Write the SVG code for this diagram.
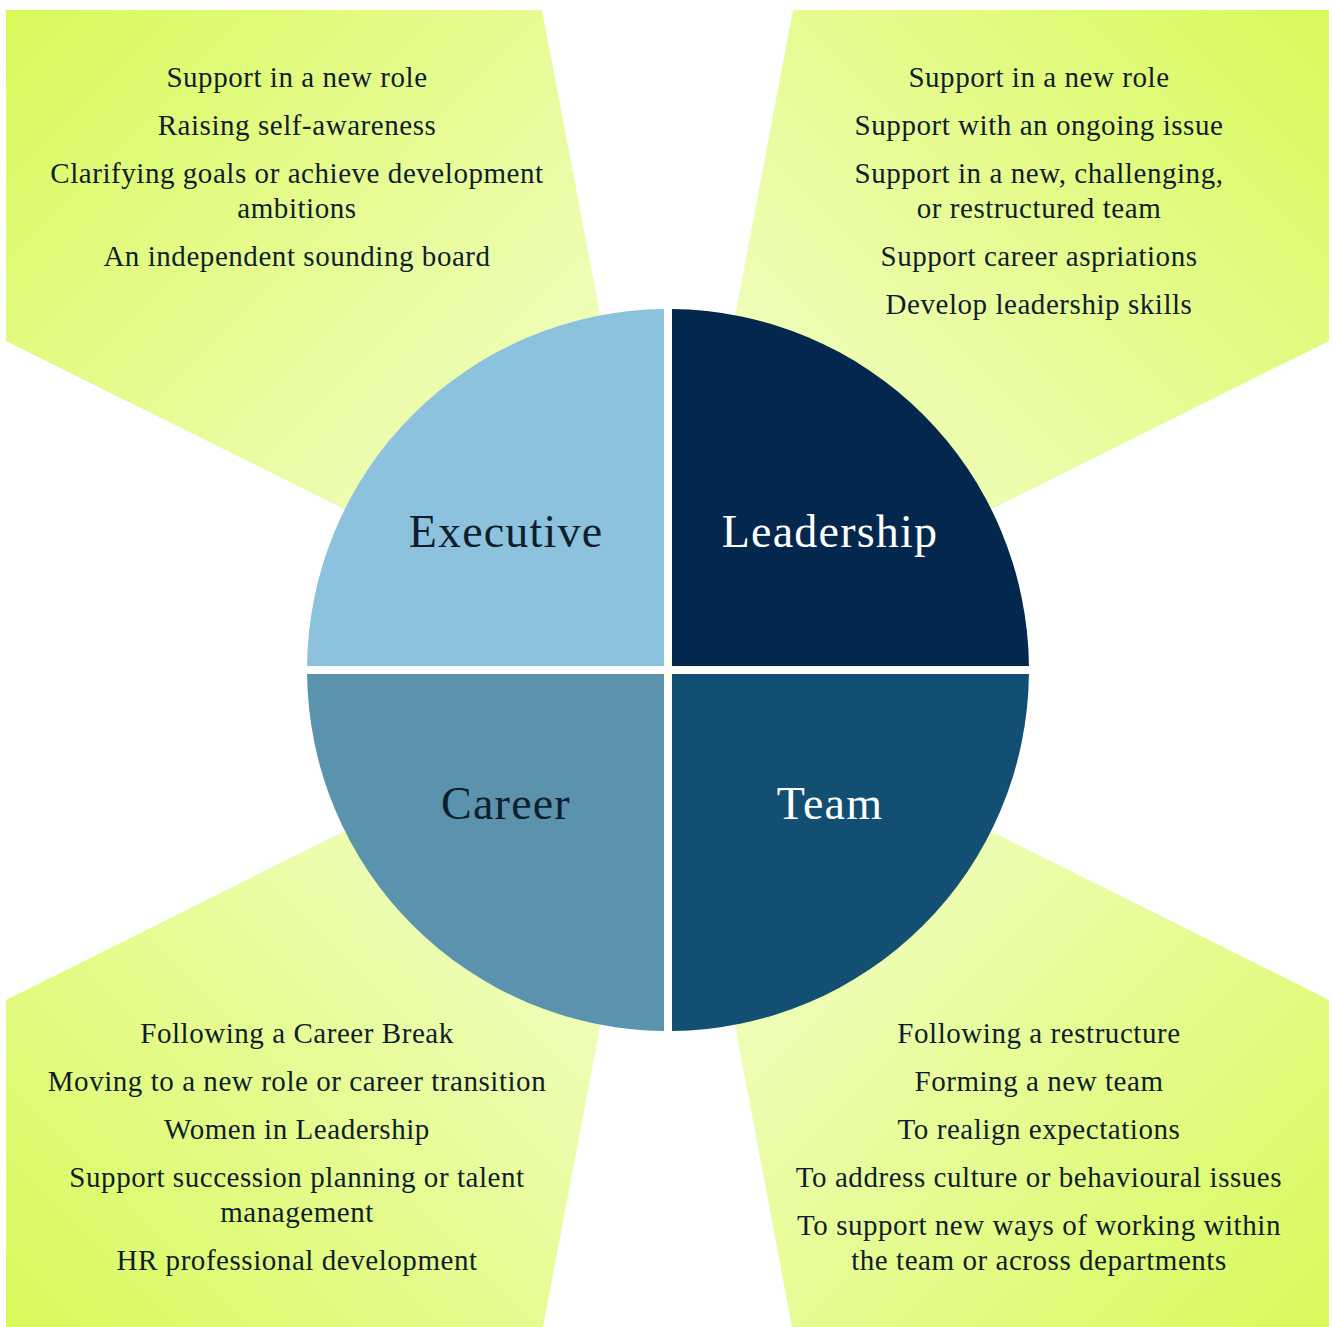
<svg xmlns="http://www.w3.org/2000/svg" width="1332" height="1327" viewBox="0 0 1332 1327">
  <defs>
    <linearGradient id="gTL" gradientUnits="userSpaceOnUse" x1="6" y1="10" x2="668" y2="670">
      <stop offset="0" stop-color="#d9f95a"/>
      <stop offset="1" stop-color="#f9ffe4"/>
    </linearGradient>
    <linearGradient id="gTR" gradientUnits="userSpaceOnUse" x1="1329" y1="10" x2="668" y2="670">
      <stop offset="0" stop-color="#d9f95a"/>
      <stop offset="1" stop-color="#f9ffe4"/>
    </linearGradient>
    <linearGradient id="gBL" gradientUnits="userSpaceOnUse" x1="6" y1="1327" x2="668" y2="670">
      <stop offset="0" stop-color="#d9f95a"/>
      <stop offset="1" stop-color="#f9ffe4"/>
    </linearGradient>
    <linearGradient id="gBR" gradientUnits="userSpaceOnUse" x1="1329" y1="1327" x2="668" y2="670">
      <stop offset="0" stop-color="#d9f95a"/>
      <stop offset="1" stop-color="#f9ffe4"/>
    </linearGradient>
  </defs>
  <style>
    .item { font-family: "Liberation Serif", "DejaVu Serif", serif; font-size: 29px; letter-spacing: 0.55px; fill: #0f1e2c; text-anchor: middle; }
    .title { font-family: "Liberation Serif", "DejaVu Serif", serif; font-size: 46px; letter-spacing: 1.2px; text-anchor: middle; }
    .dark { fill: #0f1e2c; }
    .light { fill: #ffffff; }
  </style>
  <rect width="1332" height="1327" fill="#ffffff"/>

  <g id="panel-executive">
    <polygon points="6,10 542,10 668,670 6,341" fill="url(#gTL)"/>
    <text class="item" x="297" y="87">Support in a new role</text>
    <text class="item" x="297" y="135">Raising self-awareness</text>
    <text class="item" x="297" y="183">Clarifying goals or achieve development</text>
    <text class="item" x="297" y="218">ambitions</text>
    <text class="item" x="297" y="266">An independent sounding board</text>
  </g>

  <g id="panel-leadership">
    <polygon points="793,10 1329,10 1329,341 668,670" fill="url(#gTR)"/>
    <text class="item" x="1039" y="87">Support in a new role</text>
    <text class="item" x="1039" y="135">Support with an ongoing issue</text>
    <text class="item" x="1039" y="183">Support in a new, challenging,</text>
    <text class="item" x="1039" y="218">or restructured team</text>
    <text class="item" x="1039" y="266">Support career aspriations</text>
    <text class="item" x="1039" y="314">Develop leadership skills</text>
  </g>

  <g id="panel-career">
    <polygon points="6,1000 668,670 543,1327 6,1327" fill="url(#gBL)"/>
    <text class="item" x="297" y="1043">Following a Career Break</text>
    <text class="item" x="297" y="1091">Moving to a new role or career transition</text>
    <text class="item" x="297" y="1139">Women in Leadership</text>
    <text class="item" x="297" y="1187">Support succession planning or talent</text>
    <text class="item" x="297" y="1222">management</text>
    <text class="item" x="297" y="1270">HR professional development</text>
  </g>

  <g id="panel-team">
    <polygon points="1329,1000 668,670 792,1327 1329,1327" fill="url(#gBR)"/>
    <text class="item" x="1039" y="1043">Following a restructure</text>
    <text class="item" x="1039" y="1091">Forming a new team</text>
    <text class="item" x="1039" y="1139">To realign expectations</text>
    <text class="item" x="1039" y="1187">To address culture or behavioural issues</text>
    <text class="item" x="1039" y="1235">To support new ways of working within</text>
    <text class="item" x="1039" y="1270">the team or across departments</text>
  </g>

  <g id="node-executive">
    <path d="M664,666 V309.02 A361,361 0 0 0 307.02,666 Z" fill="#8cc2de"/>
    <text class="title dark" x="506" y="547">Executive</text>
  </g>
  <g id="node-leadership">
    <path d="M672,666 V309.02 A361,361 0 0 1 1028.98,666 Z" fill="#03274d"/>
    <text class="title light" x="830" y="547">Leadership</text>
  </g>
  <g id="node-career">
    <path d="M664,674 V1030.98 A361,361 0 0 1 307.02,674 Z" fill="#5b93ae"/>
    <text class="title dark" x="506" y="819">Career</text>
  </g>
  <g id="node-team">
    <path d="M672,674 V1030.98 A361,361 0 0 0 1028.98,674 Z" fill="#124f73"/>
    <text class="title light" x="830" y="819">Team</text>
  </g>

  <g id="connectors"></g>
</svg>
